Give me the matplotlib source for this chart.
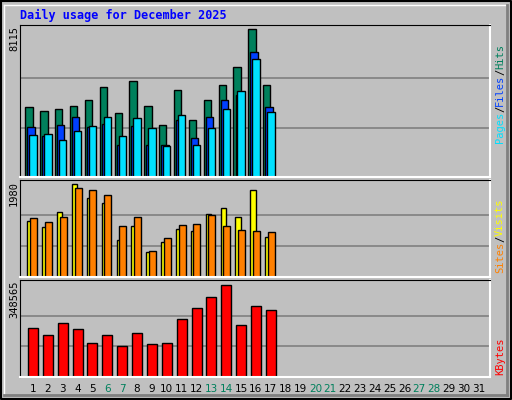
import numpy as np
import matplotlib.pyplot as plt

days = np.arange(1, 32)
n = 17
hits = [3855, 3635, 3709, 3911, 4204, 4920, 3525, 5251, 3911, 2864, 4755, 3103, 4204, 5031, 6022, 8115, 5031]
files = [2717, 2240, 2864, 3305, 2717, 2882, 1781, 2791, 1781, 1781, 3103, 2111, 3268, 4204, 4480, 6848, 3855]
pages = [2277, 2332, 2056, 2497, 2772, 3268, 2222, 3213, 2662, 1726, 3378, 1781, 2662, 3709, 4700, 6463, 3543]
visits = [1187, 1058, 1380, 1980, 1680, 1573, 779, 1079, 522, 736, 1015, 972, 1337, 1465, 1272, 1851, 843]
sites = [1251, 1165, 1272, 1894, 1851, 1744, 1079, 1272, 543, 822, 1101, 1122, 1315, 1079, 994, 972, 951]
kbytes = [184440, 157728, 203520, 180624, 127200, 157728, 115752, 165360, 123384, 127200,
          218784, 260760, 302736, 348565, 195888, 268392, 253128]
weekends = [6, 7, 13, 14, 20, 21, 27, 28]

W, H = 512, 400
fig = plt.figure(figsize=(W / 100, H / 100), dpi=100)
fig.patch.set_facecolor('#C0C0C0')
mono = 'DejaVu Sans Mono'

# outer border
bg = fig.add_axes([0, 0, 1, 1])
bg.set_xlim(0, W); bg.set_ylim(H, 0); bg.axis('off')
bg.plot([1, W - 1, W - 1, 1, 1], [1, 1, H - 1, H - 1, 1], color='black', lw=1.5)
bg.plot([4, W - 5], [5, 5], color='white', lw=1)
bg.plot([4, 4], [5, H - 6], color='white', lw=1)
bg.plot([4, W - 5], [H - 5, H - 5], color='#808080', lw=2)
bg.plot([W - 5, W - 5], [5, H - 5], color='#808080', lw=2)
bg.text(20, 15, 'Daily usage for December 2025', color='#0000FF', fontsize=8.5,
        fontweight='bold', family=mono, va='center')

def panel(top, bottom):
    ax = fig.add_axes([20 / W, 1 - bottom / H, (490 - 20) / W, (bottom - top) / H])
    ax.set_facecolor('#C0C0C0')
    ax.set_xlim(0.125, 31.74)
    for s in ['left', 'top']:
        ax.spines[s].set_color('black')
    for s in ['right', 'bottom']:
        ax.spines[s].set_color('white')
        ax.spines[s].set_linewidth(1.5)
    ax.set_xticks([]); ax.set_yticks([])
    return ax

def gridlines(ax, vmax, head):
    for f in (1 / 3, 2 / 3):
        ax.axhline(vmax * f, color='#808080', lw=1.2, zorder=0)
    ax.set_ylim(0, vmax * head)

def side_label(y_bottom, parts, x=500):
    y = y_bottom
    for txt, col in parts:
        bg.text(x, y, txt, color=col, fontsize=7.5, family=mono, rotation=90,
                ha='center', va='bottom')
        y -= len(txt) * 6.2

d = days[:n]
ax1 = panel(25, 177)
gridlines(ax1, 8115, 152 / 148)
ax1.bar(d - 0.27, hits, width=0.49, color='#00805C', edgecolor='black', lw=1)
ax1.bar(d - 0.13, files, width=0.49, color='#0040FF', edgecolor='black', lw=1)
ax1.bar(d, pages, width=0.49, color='#00E0FF', edgecolor='black', lw=1)
bg.text(14, 26, '8115', fontsize=7.5, family=mono, rotation=90, ha='center', va='top')
side_label(143, [('Pages', '#00E0FF'), ('/', 'black'), ('Files', '#0040FF'), ('/', 'black'), ('Hits', '#00805C')])

ax2 = panel(180, 277)
gridlines(ax2, 1980, 97 / 93)
ax2.bar(d - 0.2, visits, width=0.36, color='#FFFF00', edgecolor='black', lw=1)
ax2.bar(d + 0.03, sites, width=0.47, color='#FF8000', edgecolor='black', lw=1)
bg.text(14, 181, '1980', fontsize=7.5, family=mono, rotation=90, ha='center', va='top')
side_label(273, [('Sites', '#FF8000'), ('/', 'black'), ('Visits', '#FFFF00')])

ax3 = panel(280, 377)
gridlines(ax3, 348565, 97 / 92)
ax3.bar(d, kbytes, width=0.67, color='#FF0000', edgecolor='black', lw=1)
bg.text(14, 281, '348565', fontsize=7.5, family=mono, rotation=90, ha='center', va='top')
side_label(375, [('KBytes', '#FF0000')])

x0, step = 33, 14.86
for i in days:
    col = '#00805C' if i in weekends else 'black'
    bg.text(x0 + (i - 1) * step, 389, str(i), color=col, fontsize=7.5,
            ha='center', va='center')

fig.savefig('out.png', dpi=100, facecolor=fig.get_facecolor())
